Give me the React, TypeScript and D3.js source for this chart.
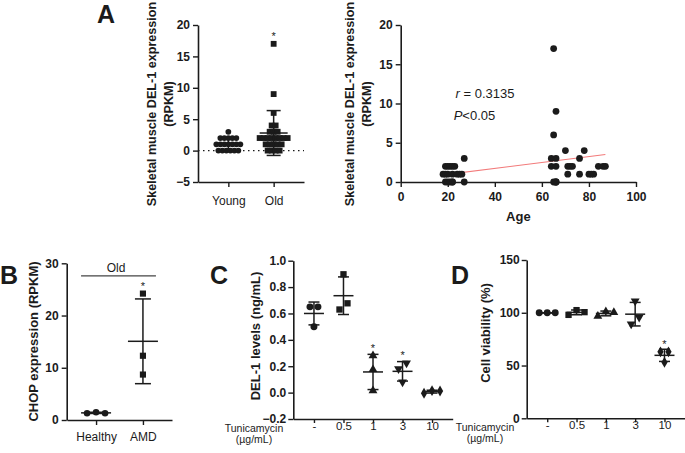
import { useEffect, useRef } from 'react'
import * as d3 from 'd3'

// Panel A: DEL-1 expression (RPKM) per subject, with age
const youngAges = [27, 19, 20, 21, 22, 23, 18, 19, 20, 22, 24, 25, 26, 19, 20, 21, 22, 22, 27]
const youngDel1 = [3, 2, 2, 2, 2, 2, 1, 1, 1, 1, 1, 1, 1, 0, 0, 0, 0, 0, 0]
const oldAges = [65, 66, 65, 70, 78, 64, 66, 76, 64, 66, 71, 72, 73, 84, 86, 87, 71, 76, 80, 81, 82, 66, 66, 65, 66]
const oldDel1 = [17, 9, 6, 4, 4, 3, 3, 3, 2, 2, 2, 2, 2, 2, 2, 2, 1, 1, 1, 1, 1, 0, 0, 0, 0]
const ageGroups = ['Young', 'Old']
const starsA = ['Old']
// linear fit shown in the correlation plot
const fitSlope = 0.0376
const fitIntercept = 0.23

// Panel B: CHOP expression
const retinaGroups = ['Healthy', 'AMD']
const chopHealthy = [1.3, 1.5, 1.3]
const chopAmd = [24.2, 12.3, 8.7]
const starsB = ['AMD']

// Panels C and D: tunicamycin dose response
const doses = ['-', '0.5', '1', '3', '10']
const del1Levels = [
  [0.65, 0.5, 0.65],
  [0.63, 0.897, 0.677],
  [0.28, 0.175, 0.015],
  [0.18, 0.08, 0.224],
  [-0.005, 0.015, 0.012],
]
const viability = [
  [100, 100, 100],
  [98, 102.5, 100.6],
  [96.8, 101, 100.3],
  [89.3, 111, 95.7],
  [63, 53, 63],
]
const starsC = ['1', '3']
const starsD = ['10']

const FONT = "'Liberation Sans', Arial, Helvetica, sans-serif"
const INK = '#1b1b1b'

type Sel = d3.Selection<SVGGElement, unknown, null, undefined>
type Shape = 'circle' | 'square' | 'triangle' | 'down' | 'diamond'

const symbolOf: Record<Shape, d3.SymbolType> = {
  circle: d3.symbolCircle,
  square: d3.symbolSquare,
  triangle: d3.symbolTriangle,
  down: d3.symbolTriangle,
  diamond: d3.symbolDiamond,
}

function styleAxis(a: Sel, size: number, bold: boolean) {
  a.select('.domain').attr('stroke', INK).attr('stroke-width', 1.6)
  a.selectAll('.tick line').attr('stroke', INK).attr('stroke-width', 1.4)
  a.selectAll('.tick text')
    .attr('fill', INK)
    .style('font-size', `${size}px`)
    .style('font-weight', bold ? 'bold' : 'normal')
    .style('font-family', FONT)
}

// spread points that sit on (nearly) the same row, centred on the group
function swarm(values: number[], y: (v: number) => number, spacing: number, tol: number) {
  const order = values.map((_, i) => i).sort((a, b) => y(values[b]) - y(values[a]))
  const offsets = values.map(() => 0)
  let row: number[] = []
  const flush = () => {
    row.sort((a, b) => a - b)
    row.forEach((k, j) => (offsets[k] = (j - (row.length - 1) / 2) * spacing))
    row = []
  }
  order.forEach(i => {
    if (row.length && Math.abs(y(values[i]) - y(values[row[0]])) > tol) flush()
    row.push(i)
  })
  flush()
  return offsets
}

type GroupOpts = {
  shape: Shape
  size: number
  spacing: number
  tol: number
  meanHalf: number
  capHalf: number
  star?: boolean
}

function drawGroup(g: Sel, cx: number, values: number[], y: d3.ScaleLinear<number, number>, o: GroupOpts) {
  const offs = swarm(values, y, o.spacing, o.tol)
  const sym = d3.symbol().type(symbolOf[o.shape]).size(o.size)
  values.forEach((v, i) => {
    g.append('path')
      .attr('d', sym()!)
      .attr('transform', `translate(${cx + offs[i]},${y(v)})${o.shape === 'down' ? ' rotate(180)' : ''}`)
      .attr('fill', INK)
  })
  const m = d3.mean(values)!
  const sd = d3.deviation(values)!
  const eb = g.append('g').attr('stroke', INK).attr('stroke-width', 1.5)
  eb.append('line').attr('x1', cx).attr('x2', cx).attr('y1', y(m - sd)).attr('y2', y(m + sd))
  eb.append('line').attr('x1', cx - o.meanHalf).attr('x2', cx + o.meanHalf).attr('y1', y(m)).attr('y2', y(m))
  ;[m - sd, m + sd].forEach(v =>
    eb.append('line').attr('x1', cx - o.capHalf).attr('x2', cx + o.capHalf).attr('y1', y(v)).attr('y2', y(v)),
  )
  if (o.star) {
    const r = Math.sqrt(o.size) / 2 + 1
    const top = Math.min(y(m + sd), y(d3.max(values)!) - r)
    g.append('text')
      .attr('x', cx)
      .attr('y', top)
      .attr('text-anchor', 'middle')
      .style('font-family', FONT)
      .style('font-size', '11px')
      .attr('fill', INK)
      .text('*')
  }
}

function yTitle(g: Sel, x: number, y: number, lines: string[], size = 13) {
  lines.forEach((t, i) => {
    g.append('text')
      .attr('transform', `translate(${x + i * 16.5},${y}) rotate(-90)`)
      .attr('text-anchor', 'middle')
      .style('font-family', FONT)
      .style('font-size', `${size}px`)
      .style('font-weight', 'bold')
      .attr('fill', INK)
      .text(t)
  })
}

function label(g: Sel, x: number, y: number, t: string, size: number, anchor = 'middle', weight = 'normal') {
  return g.append('text')
    .attr('x', x)
    .attr('y', y)
    .attr('text-anchor', anchor)
    .style('font-family', FONT)
    .style('font-size', `${size}px`)
    .style('font-weight', weight)
    .attr('fill', INK)
    .text(t)
}

export default function App() {
  const svgRef = useRef<SVGSVGElement>(null)

  useEffect(() => {
    const svgEl = svgRef.current
    if (!svgEl) return
    const svg = d3.select(svgEl)
    svg.selectAll('*').remove()
    const root = svg.append('g') as unknown as Sel

    // ---------- A (left): beeswarm ----------
    {
      const x = d3.scalePoint<string>().domain(ageGroups).range([198, 304]).padding(0.67)
      const y = d3.scaleLinear().domain([-5, 20]).range([182, 25])
      const g = root.append('g')

      g.append('line')
        .attr('x1', 198).attr('x2', 304)
        .attr('y1', y(0)).attr('y2', y(0))
        .attr('stroke', INK).attr('stroke-width', 1.3).attr('stroke-dasharray', '1.5,3.5')

      drawGroup(g, x('Young')!, youngDel1, y, {
        shape: 'circle', size: 26, spacing: 4, tol: 2, meanHalf: 13, capHalf: 7,
        star: starsA.includes('Young'),
      })
      drawGroup(g, x('Old')!, oldDel1, y, {
        shape: 'square', size: 34, spacing: 4, tol: 2, meanHalf: 14, capHalf: 7,
        star: starsA.includes('Old'),
      })

      const ay = g.append('g').attr('transform', 'translate(198,0)')
      ay.call(d3.axisLeft(y).tickValues([-5, 0, 5, 10, 15, 20]).tickSize(5).tickSizeOuter(0).tickPadding(3))
      styleAxis(ay, 12, true)
      const ax = g.append('g').attr('transform', `translate(0,${y(-5)})`)
      ax.call(d3.axisBottom(x).tickSize(5).tickSizeOuter(0).tickPadding(9))
      styleAxis(ax, 12, false)
      yTitle(g, 156, 104, ['Skeletal muscle DEL-1 expression', '(RPKM)'], 12.6)
      label(g, 106, 23, 'A', 25, 'middle', 'bold')
    }

    // ---------- A (right): age correlation ----------
    {
      const x = d3.scaleLinear().domain([0, 100]).range([400.7, 636])
      const y = d3.scaleLinear().domain([0, 20]).range([182, 25])
      const g = root.append('g')
      const ages = [...youngAges, ...oldAges]
      const vals = [...youngDel1, ...oldDel1]
      const fit = d3.line<number>().x(a => x(a)).y(a => y(fitIntercept + fitSlope * a))
      g.append('path')
        .datum(d3.extent(ages) as [number, number])
        .attr('d', fit)
        .attr('stroke', '#f27a7a').attr('stroke-width', 1.1).attr('fill', 'none')

      const sym = d3.symbol().type(d3.symbolCircle).size(36)
      ages.forEach((a, i) => {
        g.append('path').attr('d', sym()!).attr('transform', `translate(${x(a)},${y(vals[i])})`).attr('fill', INK)
      })

      const ay = g.append('g').attr('transform', `translate(${x(0)},0)`)
      ay.call(d3.axisLeft(y).tickValues([0, 5, 10, 15, 20]).tickSize(5).tickSizeOuter(0).tickPadding(3))
      styleAxis(ay, 12, true)
      const ax = g.append('g').attr('transform', `translate(0,${y(0)})`)
      ax.call(d3.axisBottom(x).tickValues([0, 20, 40, 60, 80, 100]).tickSize(5).tickSizeOuter(0).tickPadding(5))
      styleAxis(ax, 12, true)
      label(g, x(50), 221, 'Age', 13, 'middle', 'bold')
      yTitle(g, 354, 104, ['Skeletal muscle DEL-1 expression', '(RPKM)'], 12.6)

      const r = label(g, x(23.3), y(10.7), '', 13, 'start')
      r.append('tspan').style('font-style', 'italic').text('r')
      r.append('tspan').text(' = 0.3135')
      const p = label(g, x(22.5), y(7.85), '', 13, 'start')
      p.append('tspan').style('font-style', 'italic').text('P')
      p.append('tspan').text('<0.05')
    }

    // ---------- B: CHOP ----------
    {
      const x = d3.scalePoint<string>().domain(retinaGroups).range([67, 172]).padding(0.62)
      const y = d3.scaleLinear().domain([0, 30]).range([420, 263.3])
      const g = root.append('g')
      drawGroup(g, x('Healthy')!, chopHealthy, y, {
        shape: 'circle', size: 34, spacing: 9, tol: 6, meanHalf: 15, capHalf: 8,
        star: starsB.includes('Healthy'),
      })
      drawGroup(g, x('AMD')!, chopAmd, y, {
        shape: 'square', size: 38, spacing: 9, tol: 6, meanHalf: 15, capHalf: 8,
        star: starsB.includes('AMD'),
      })
      const ay = g.append('g').attr('transform', 'translate(66.7,0)')
      ay.call(d3.axisLeft(y).tickValues([0, 10, 20, 30]).tickSize(5).tickSizeOuter(0).tickPadding(3))
      styleAxis(ay, 12, true)
      const ax = g.append('g').attr('transform', `translate(0,${y(0)})`)
      ax.call(d3.axisBottom(x).tickSize(5).tickSizeOuter(0).tickPadding(7))
      styleAxis(ax, 12, false)
      g.append('line')
        .attr('x1', x('Healthy')! - 15).attr('x2', x('AMD')! + 13)
        .attr('y1', y(27.6)).attr('y2', y(27.6))
        .attr('stroke', '#444').attr('stroke-width', 1.2)
      label(g, (x('Healthy')! + x('AMD')!) / 2 - 3.5, y(27.6) - 3.5, 'Old', 12)
      yTitle(g, 38, 341.5, ['CHOP expression (RPKM)'])
      label(g, 0, 284, 'B', 25, 'start', 'bold')
    }

    // ---------- C and D: tunicamycin ----------
    const doseShapes: Shape[] = ['circle', 'square', 'triangle', 'down', 'diamond']
    const shapeSize: Record<Shape, number> = { circle: 38, square: 40, triangle: 34, down: 34, diamond: 34 }
    const dosePanel = (
      x0: number, x1: number, yDomain: [number, number], yRange: [number, number],
      ticks: number[], fmt: (d: number) => string, data: number[][], stars: string[],
      titleX: number, titleY: number, title: string, letter: string, letterX: number, tunX: number,
    ) => {
      const x = d3.scalePoint<string>().domain(doses).range([x0, x1]).padding(0.7)
      const y = d3.scaleLinear().domain(yDomain).range(yRange)
      const g = root.append('g')
      data.forEach((vals, i) => {
        drawGroup(g, x(doses[i])!, vals, y, {
          shape: doseShapes[i], size: shapeSize[doseShapes[i]], spacing: 8, tol: 7,
          meanHalf: 10, capHalf: 5.5, star: stars.includes(doses[i]),
        })
      })
      const ay = g.append('g').attr('transform', `translate(${x0},0)`)
      ay.call(d3.axisLeft(y).tickValues(ticks).tickFormat(d => fmt(d as number)).tickSize(5).tickSizeOuter(0).tickPadding(2))
      styleAxis(ay, 12, true)
      const ax = g.append('g').attr('transform', `translate(0,${yRange[0]})`)
      ax.call(d3.axisBottom(x).tickSize(4).tickSizeOuter(0).tickPadding(-1))
      styleAxis(ax, 11.5, false)
      label(g, tunX, yRange[0] + 12.5, 'Tunicamycin', 10.5)
      label(g, tunX, yRange[0] + 23.5, '(\u00b5g/mL)', 10.5)
      yTitle(g, titleX, titleY, [title])
      label(g, letterX, 284, letter, 25, 'start', 'bold')
    }
    dosePanel(293.3, 452.7, [-0.2, 1.0], [419, 260.7], [-0.2, 0, 0.2, 0.4, 0.6, 0.8, 1.0], d3.format('.1f'),
      del1Levels, starsC, 260, 336, 'DEL-1 levels (ng/mL)', 'C', 210, 254)
    dosePanel(526.7, 685, [0, 150], [418.3, 260], [0, 50, 100, 150], d3.format('d'),
      viability, starsD, 490, 333, 'Cell viability (%)', 'D', 451, 485)
  }, [])

  return (
    <div style={{ position: 'absolute', left: 0, top: 0 }}>
      <svg ref={svgRef} width={685} height={453} style={{ display: 'block', background: '#fff' }} />
    </div>
  )
}
